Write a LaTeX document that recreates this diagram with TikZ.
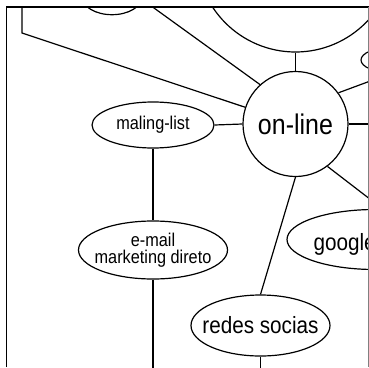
\documentclass[tikz,border=0pt]{standalone}
\usepackage{fontspec}
\setmainfont{Liberation Sans}[FakeStretch=0.88]
\usetikzlibrary{shapes.geometric}
\begin{document}
\begin{tikzpicture}[x=1pt,y=-1pt,line width=1.2pt,
  oval/.style={draw, ellipse, inner sep=0pt},
  ring/.style={draw, circle, inner sep=0pt},
  lbl/.style={inner sep=0pt, text=black},
  big text/.style={lbl, font=\fontsize{28.4}{30}\selectfont},
  mid text/.style={lbl, font=\fontsize{23.5}{25}\selectfont},
  small text/.style={lbl, font=\fontsize{18.5}{17}\selectfont, align=center}
]
\useasboundingbox (0,0) rectangle (369,367);
\begin{scope}
  \clip (6.5,7) rectangle (368,367);
  % nodes
  \node[ring, minimum size=105pt] (online) at (295.5,124) {};
  \node[big text] (tonline) at (online.center) {on-line};
  \node[ring, minimum size=198pt] (big) at (295.5,-47) {};
  \node[oval, minimum width=60pt, minimum height=36pt] (tl) at (112,-3.3) {};
  \node[oval, minimum width=60pt, minimum height=25pt] (tr) at (391,60) {};
  \node[oval, minimum width=122pt, minimum height=46pt] (maling) at (153,125) {};
  \node[small text] (tmaling) at (maling.center) {maling-list};
  \node[oval, minimum width=149pt, minimum height=58pt] (email) at (153,250) {};
  \node[small text] (temail) at (email.center) {e-mail\\marketing direto};
  \node[oval, minimum width=176pt, minimum height=60pt] (google) at (375,239.5) {};
  \node[mid text, anchor=base west] (tgoogle) at (313,250) {google};
  \node[oval, minimum width=139pt, minimum height=61pt] (redes) at (260.5,325.5) {};
  \node[mid text] (tredes) at (redes.center) {redes socias};
  % free ends
  \coordinate (c1) at (22,-20);
  \coordinate (c1b) at (22,33);
  \coordinate (c2) at (101.4,-30);
  \coordinate (c3) at (400,70);
  \coordinate (c4) at (400,124);
  \coordinate (c5) at (400,222.2);
  \coordinate (c6) at (153,400);
  \coordinate (c7) at (260.5,400);
  % connectors
  \draw (c1) -- (c1b) -- (online);
  \draw (c2) -- (online.132.6);
  \draw (big.south) -- (online.north);
  \draw (online.36.7) -- (c3);
  \draw (online.east) -- (c4);
  \draw (online.-53.3) -- (c5);
  \draw (online.south) -- (redes.north);
  \draw (maling.east) -- (online.west);
  \draw (maling.south) -- (email.north);
  \draw (email.south) -- (c6);
  \draw (redes.south) -- (c7);
\end{scope}
% frame
\draw (6.5,367) -- (6.5,7) -- (368.5,7);
\draw[gray, line width=0.6pt] (368.2,7) -- (368.2,367);
\end{tikzpicture}
\end{document}
